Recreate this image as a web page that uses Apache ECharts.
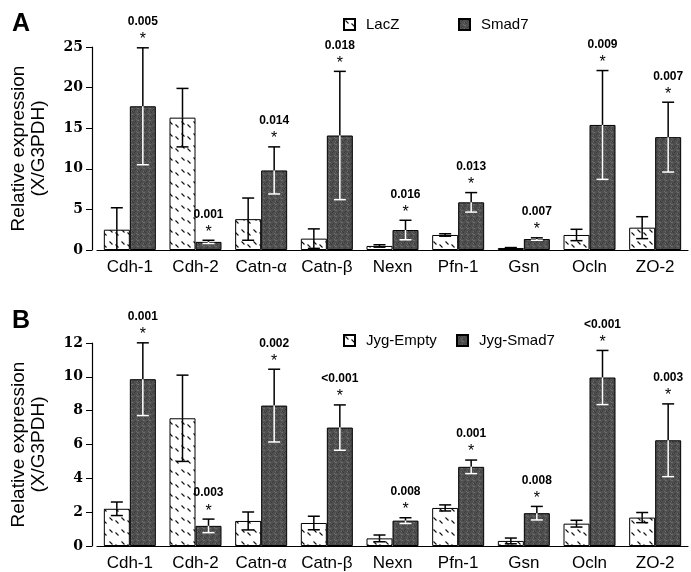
<!DOCTYPE html>
<html>
<head>
<meta charset="utf-8">
<script src="https://cdn.jsdelivr.net/npm/echarts@6/dist/echarts.min.js"></script>
<style>
  html, body { margin: 0; padding: 0; background: #fff; }
  #main { width: 691px; height: 572px; }
</style>
</head>
<body>
<div id="main"></div>
<script>
// categories
var genes = ['Cdh-1', 'Cdh-2', 'Catn-α', 'Catn-β', 'Nexn', 'Pfn-1', 'Gsn', 'Ocln', 'ZO-2'];

// panel A
var laczVal = [2.5, 16.3, 3.8, 1.4, 0.5, 1.85, 0.25, 1.85, 2.75];
var laczErr = [2.7, 3.6, 2.6, 1.2, 0.15, 0.15, 0.05, 0.7, 1.35];
var smad7Val = [17.7, 1.0, 9.8, 14.1, 2.46, 5.87, 1.35, 15.4, 13.9];
var smad7Err = [7.2, 0.2, 2.9, 7.9, 1.2, 1.2, 0.15, 6.7, 4.3];
var pA = ['0.005', '0.001', '0.014', '0.018', '0.016', '0.013', '0.007', '0.009', '0.007'];

// panel B
var emptyVal = [2.2, 7.55, 1.48, 1.36, 0.45, 2.25, 0.3, 1.32, 1.68];
var emptyErr = [0.4, 2.55, 0.53, 0.4, 0.2, 0.18, 0.17, 0.2, 0.3];
var jsmadVal = [9.86, 1.19, 8.3, 7.0, 1.5, 4.68, 1.94, 9.96, 6.25];
var jsmadErr = [2.15, 0.4, 2.15, 1.34, 0.17, 0.4, 0.4, 1.6, 2.15];
var pB = ['0.001', '0.003', '0.002', '<0.001', '0.008', '0.001', '0.008', '<0.001', '0.003'];

var yTicksA = { max: 25, interval: 5 };
var yTicksB = { max: 12, interval: 2 };

var sans = 'Liberation Sans, Arial, sans-serif';

// white fill with short staggered slanted dashes
function hatchFill() {
  var c = document.createElement('canvas');
  c.width = 12; c.height = 12;
  var g = c.getContext('2d');
  g.fillStyle = '#fff';
  g.fillRect(0, 0, 12, 12);
  g.strokeStyle = '#111';
  g.lineWidth = 1.1;
  g.beginPath();
  g.moveTo(1.5, 1.5); g.lineTo(4.5, 4.5);
  g.moveTo(7.5, 4.5); g.lineTo(10.5, 7.5);
  g.stroke();
  return { image: c, repeat: 'repeat' };
}

// dark grey stipple (fixed pixel layout)
var stippleDots = [
  [0, 0], [3, 1], [5, 3], [1, 4], [4, 5], [2, 2], [5, 0], [0, 3]
];
function stippleFill() {
  var c = document.createElement('canvas');
  c.width = 6; c.height = 6;
  var g = c.getContext('2d');
  g.fillStyle = '#4f4f4f';
  g.fillRect(0, 0, 6, 6);
  stippleDots.forEach(function (d, k) {
    g.fillStyle = k % 2 ? '#3a3a3a' : '#6c6c6c';
    g.fillRect(d[0], d[1], 1, 1);
  });
  return { image: c, repeat: 'repeat' };
}

var hatch = hatchFill();
var stipple = stippleFill();

function barSeries(name, vals, fill, idx) {
  return {
    name: name,
    type: 'bar',
    xAxisIndex: idx,
    yAxisIndex: idx,
    barWidth: 26,
    barGap: '0%',
    data: vals,
    itemStyle: { color: fill, borderColor: '#000', borderWidth: 1 },
    silent: true
  };
}

function errSeries(vals, errs, idx, side, lowColor, pvals) {
  return {
    type: 'custom',
    xAxisIndex: idx,
    yAxisIndex: idx,
    z: 5,
    silent: true,
    data: vals.map(function (v, i) { return [i, v, errs[i]]; }),
    renderItem: function (params, api) {
      var i = api.value(0), v = api.value(1), e = api.value(2);
      var base = api.coord([i, v]);
      var x = base[0] + side * 13;
      var yv = base[1];
      var yTop = api.coord([i, v + e])[1];
      var yLow = api.coord([i, Math.max(v - e, 0)])[1];
      var lw = 1.5;
      var kids = [
        { type: 'line', shape: { x1: x, y1: yv, x2: x, y2: yTop }, style: { stroke: '#000', lineWidth: lw } },
        { type: 'line', shape: { x1: x - 6, y1: yTop, x2: x + 6, y2: yTop }, style: { stroke: '#000', lineWidth: lw } },
        { type: 'line', shape: { x1: x, y1: yv, x2: x, y2: yLow }, style: { stroke: lowColor, lineWidth: lw } },
        { type: 'line', shape: { x1: x - 6, y1: yLow, x2: x + 6, y2: yLow }, style: { stroke: lowColor, lineWidth: lw } }
      ];
      if (pvals) {
        kids.push({ type: 'text', style: { text: '*', x: x, y: yTop - 8, align: 'center', verticalAlign: 'middle',
          font: '16px ' + sans, fill: '#000' } });
        kids.push({ type: 'text', style: { text: pvals[params.dataIndex], x: x, y: yTop - 26, align: 'center',
          verticalAlign: 'middle', font: 'bold 12px ' + sans, fill: '#000' } });
      }
      return { type: 'group', children: kids };
    }
  };
}

function xAxisOf(idx) {
  return {
    type: 'category', gridIndex: idx, data: genes,
    axisLine: { lineStyle: { color: '#000', width: 1.2 } },
    axisTick: { show: false },
    axisLabel: { color: '#000', fontSize: 17, fontFamily: sans, margin: 9, interval: 0 }
  };
}

function yAxisOf(idx, ticks) {
  return {
    type: 'value', gridIndex: idx, min: 0, max: ticks.max, interval: ticks.interval,
    offset: 5,
    name: 'Relative expression\n(X/G3PDH)',
    nameLocation: 'middle', nameGap: 43,
    nameTextStyle: { color: '#000', fontSize: 19, lineHeight: 20, fontFamily: sans },
    splitLine: { show: false },
    axisLine: { show: true, lineStyle: { color: '#000', width: 1.2 } },
    axisTick: { show: true, length: 6, lineStyle: { color: '#000' } },
    axisLabel: { color: '#000', fontSize: 14, fontWeight: 'bold', fontFamily: 'DejaVu Serif', margin: 9 }
  };
}

function legendOf(name, left, top) {
  return {
    data: [name], left: left, top: top, icon: 'rect', itemWidth: 11, itemHeight: 11,
    selectedMode: false, padding: 0,
    textStyle: { color: '#000', fontSize: 15, fontFamily: sans, padding: [0, 0, 0, 6] }
  };
}

var chart = echarts.init(document.getElementById('main'));

chart.setOption({
  animation: false,
  backgroundColor: '#fff',
  title: [
    { text: 'A', left: 7, top: 7, textStyle: { fontSize: 25, fontWeight: 'bold', fontFamily: sans, color: '#000' } },
    { text: 'B', left: 7, top: 304, textStyle: { fontSize: 25, fontWeight: 'bold', fontFamily: sans, color: '#000' } }
  ],
  legend: [
    legendOf('LacZ', 343, 17),
    legendOf('Smad7', 458, 17),
    legendOf('Jyg-Empty', 343, 333),
    legendOf('Jyg-Smad7', 456, 333)
  ],
  grid: [
    { left: 97, right: 3, top: 47, height: 203 },
    { left: 97, right: 3, top: 343, height: 203 }
  ],
  xAxis: [xAxisOf(0), xAxisOf(1)],
  yAxis: [yAxisOf(0, yTicksA), yAxisOf(1, yTicksB)],
  series: [
    barSeries('LacZ', laczVal, hatch, 0),
    barSeries('Smad7', smad7Val, stipple, 0),
    errSeries(laczVal, laczErr, 0, -1, '#000', null),
    errSeries(smad7Val, smad7Err, 0, 1, '#fff', pA),
    barSeries('Jyg-Empty', emptyVal, hatch, 1),
    barSeries('Jyg-Smad7', jsmadVal, stipple, 1),
    errSeries(emptyVal, emptyErr, 1, -1, '#000', null),
    errSeries(jsmadVal, jsmadErr, 1, 1, '#fff', pB)
  ]
});
</script>
</body>
</html>
